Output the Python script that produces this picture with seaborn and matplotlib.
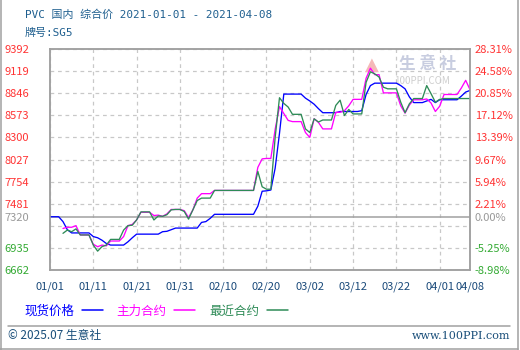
import numpy as np
import pandas as pd
import matplotlib
matplotlib.use("Agg")
import matplotlib.pyplot as plt
import seaborn as sns
from matplotlib.lines import Line2D

# ---------------- data ----------------
series_names = ["现货价格", "主力合约", "最近合约"]
series_colors = ["#0000ff", "#ff00ff", "#2e8b57"]
base_price = 7320

spot_start, fut_start, end_date = "2021-01-01", "2021-01-04", "2021-04-08"

spot_price = [
    7320, 7320, 7320, 7260, 7160, 7120, 7120, 7120, 7120, 7120,
    7075, 7060, 7030, 6990, 6970, 6970, 6970, 6970, 7010, 7060,
    7105, 7105, 7105, 7105, 7105, 7105, 7135, 7140, 7160, 7180, 7180,
    7180, 7180, 7180, 7180, 7250, 7260, 7300, 7350, 7350, 7350,
    7350, 7350, 7350, 7350, 7350, 7350, 7350, 7450, 7635, 7640,
    7650, 7920, 8350, 8835, 8835, 8835, 8835, 8835,
    8785, 8750, 8710, 8655, 8605, 8605, 8605, 8605, 8620, 8620,
    8620, 8620, 8620, 8630, 8830, 8940, 8970, 8970, 8970, 8970,
    8970, 8970, 8940, 8900, 8800, 8730, 8730, 8730, 8750, 8770, 8730,
    8765, 8765, 8765, 8765, 8765, 8810, 8860, 8880,
]
main_contract = [
    7175, 7190, 7190, 7210, 7095, 7095, 7095,
    6980, 6950, 6970, 6960, 7020, 7020, 7020, 7075, 7210, 7225,
    7280, 7375, 7375, 7375, 7335, 7340, 7325, 7355, 7410, 7410, 7410,
    7395, 7310, 7405, 7550, 7605, 7605, 7605, 7645, 7645, 7645,
    7645, 7645, 7645, 7645, 7645, 7645, 7645, 7930, 8035, 8040,
    8040, 8400, 8680, 8595, 8510, 8495, 8495, 8495,
    8360, 8300, 8530, 8485, 8405, 8405, 8405, 8610, 8610, 8630,
    8690, 8770, 8770, 8770, 9030, 9155, 9075, 9075, 8850, 8850,
    8850, 8850, 8690, 8600, 8700, 8765, 8765, 8765, 8775, 8725, 8620,
    8685, 8830, 8830, 8830, 8830, 8910, 9005, 8890,
]
near_contract = [
    7115, 7155, 7135, 7170, 7095, 7095, 7095,
    6970, 6895, 6950, 6970, 7040, 7040, 7040, 7155, 7210, 7215,
    7280, 7380, 7380, 7380, 7280, 7330, 7325, 7345, 7405, 7410, 7410,
    7385, 7290, 7405, 7520, 7550, 7550, 7550, 7645, 7645, 7645,
    7645, 7645, 7645, 7645, 7645, 7645, 7645, 7880, 7690, 7660,
    7660, 8300, 8790, 8720, 8675, 8585, 8585, 8585,
    8405, 8360, 8530, 8490, 8515, 8515, 8515, 8695, 8760, 8570,
    8645, 8590, 8590, 8590, 8980, 9110, 9085, 9045, 8920, 8900,
    8900, 8900, 8735, 8605, 8715, 8780, 8780, 8780, 8940, 8840, 8735,
    8770, 8780, 8780, 8780, 8780, 8780, 8780, 8780,
]

y_grid = [6662, 6935, 7208, 7320, 7481, 7754, 8027, 8300, 8573, 8846, 9119, 9392]
left_labels = ["6662", "6935", "", "7320", "7481", "7754", "8027", "8300",
               "8573", "8846", "9119", "9392"]
right_labels = ["-8.98%", "-5.25%", "", "0.00%", "2.21%", "5.94%", "9.67%",
                "13.39%", "17.12%", "20.85%", "24.58%", "28.31%"]
x_tick_dates = ["2021-01-01", "2021-01-11", "2021-01-21", "2021-01-31", "2021-02-10",
                "2021-02-20", "2021-03-02", "2021-03-12", "2021-03-22", "2021-04-01",
                "2021-04-08"]
x_tick_labels = ["01/01", "01/11", "01/21", "01/31", "02/10", "02/20", "03/02",
                 "03/12", "03/22", "04/01", "04/08"]

title_text = "PVC 国内 综合价 2021-01-01 - 2021-04-08"
grade_text = "牌号:SG5"
footer_left = "© 2025.07 生意社"
footer_right = "www.100PPI.com"

# ---------------- frame ----------------
d_spot = pd.date_range(spot_start, end_date)
d_fut = pd.date_range(fut_start, end_date)
df = pd.concat([
    pd.DataFrame({"date": d_spot, "value": spot_price, "series": series_names[0]}),
    pd.DataFrame({"date": d_fut, "value": main_contract, "series": series_names[1]}),
    pd.DataFrame({"date": d_fut, "value": near_contract, "series": series_names[2]}),
], ignore_index=True)

sns.set_theme(style="white")
plt.rcParams["font.family"] = ["Noto Sans CJK SC", "DejaVu Sans"]
mono = ["DejaVu Sans Mono", "Noto Sans CJK SC"]

W, H = 520, 350
fig = plt.figure(figsize=(W / 100, H / 100), dpi=100)
fig.patch.set_facecolor("white")
ax = fig.add_axes([50 / W, 1 - 270 / H, 420 / W, 221 / H])

palette = dict(zip(series_names, series_colors))
sns.lineplot(data=df, x="date", y="value", hue="series", hue_order=series_names,
             palette=palette, linewidth=0.95, legend=False, ax=ax, zorder=3)

ax.set_xlim(pd.Timestamp(spot_start), pd.Timestamp(end_date))
ax.set_ylim(y_grid[0], y_grid[-1])
ax.set_xlabel("")
ax.set_ylabel("")

grid_col = "#c8c8c8"
ax.set_yticks(y_grid)
ax.set_yticklabels(left_labels)
ax.set_xticks(pd.to_datetime(x_tick_dates))
ax.set_xticklabels(x_tick_labels)
ax.grid(True, linestyle=(0, (3, 3)), color=grid_col, linewidth=0.9)

red, green, gray = "#ff3333", "#33aa33", "#999999"
for t, v in zip(ax.yaxis.get_major_ticks(), y_grid):
    if v == base_price:
        t.gridline.set_linestyle("-")
        t.gridline.set_color("#a0a0a0")
        t.gridline.set_linewidth(1.1)
        t.label1.set_color(gray)
    elif v > base_price:
        t.label1.set_color(red)
    else:
        t.label1.set_color(green)
    t.label1.set_horizontalalignment("left")

ax.tick_params(axis="y", length=0, pad=32.5, labelsize=8)
ax.tick_params(axis="x", length=0, pad=8, labelsize=8, labelcolor="#1a4a7a")

ax2 = ax.twinx()
ax2.set_ylim(ax.get_ylim())
ax2.set_yticks(y_grid)
ax2.set_yticklabels(right_labels)
ax2.tick_params(axis="y", length=0, pad=3.5, labelsize=8)
for t, v in zip(ax2.yaxis.get_major_ticks(), y_grid):
    if v == base_price:
        t.label2.set_color(gray)
    elif v > base_price:
        t.label2.set_color(red)
    else:
        t.label2.set_color(green)
ax2.grid(False)

for a in (ax, ax2):
    for s in a.spines.values():
        s.set_color("#a0a0a0")
        s.set_linewidth(1.1)

# watermark
ax.text(0.767, 0.93, "▲", transform=ax.transAxes, color="#f5b8b8", fontsize=13,
        ha="center", va="center", zorder=1, family="DejaVu Sans")
ax.text(0.9, 0.93, "生 意 社", transform=ax.transAxes, color="#c8cde0", fontsize=12,
        ha="center", va="center", zorder=1, fontweight="bold")
ax.text(0.885, 0.855, "100PPI.COM", transform=ax.transAxes, color="#cfcfcf", fontsize=7,
        ha="center", va="center", zorder=1)

# legend (text first, then line)
handles = [Line2D([], [], color=c, linewidth=1.1) for c in series_colors]
leg = ax.legend(handles, series_names, markerfirst=False, ncol=3, frameon=False,
                loc="center left", bbox_to_anchor=(24 / W, 1 - 311 / H),
                bbox_transform=fig.transFigure, borderpad=0, borderaxespad=0,
                handlelength=1.7, handletextpad=0.6, columnspacing=1.1,
                fontsize=9, labelcolor="linecolor")

# title lines
fig.text(25 / W, 1 - 15 / H, title_text, color="#1f5f8f", fontsize=7.9, va="center",
         ha="left", family=mono)
fig.text(25 / W, 1 - 33 / H, grade_text, color="#1f5f8f", fontsize=7.9, va="center",
         ha="left", family=mono)

# footer
fig.add_artist(Line2D([8 / W, 510 / W], [1 - 325.5 / H, 1 - 325.5 / H],
                      transform=fig.transFigure, color="#a0a0a0", linewidth=1.1))
fig.text(8 / W, 1 - 336 / H, footer_left, color="#1a4f7a", fontsize=8.5, va="center", ha="left")
fig.text(510 / W, 1 - 336 / H, footer_right, color="#1a4f7a", fontsize=8, va="center",
         ha="right", family="DejaVu Serif")

# outer border
for xs, ys in [([0.5 / W, 0.5 / W], [0, 1]), ([518 / W, 518 / W], [0, 1]),
               ([0, 518 / W], [1.5 / H, 1.5 / H])]:
    fig.add_artist(Line2D(xs, ys, transform=fig.transFigure, color="#a0a0a0", linewidth=1.1))

fig.savefig("out.png", dpi=100, facecolor="white")
